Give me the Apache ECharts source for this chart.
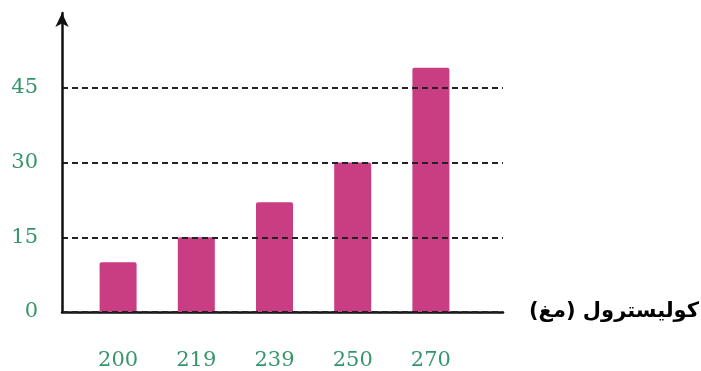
<!DOCTYPE html>
<html><head><meta charset="utf-8">
<script src="https://cdn.jsdelivr.net/npm/echarts@6/dist/echarts.min.js"></script>
<style>html,body{margin:0;padding:0;background:#fff}#c{width:701px;height:371px}</style>
</head><body><div id="c"></div>
<script>
const categories = ['200', '219', '239', '250', '270'];
const values = [10, 15, 22, 30, 49];
const yTickLabels = [0, 15, 30, 45];
const xAxisName = 'كوليسترول (مغ)';

const green = '#35966a';
const chart = echarts.init(document.getElementById('c'));
chart.setOption({
  animation: false,
  grid: [
    {left: 62, right: 198, top: 13, bottom: 59, containLabel: false, outerBoundsMode: 'none'},
    {left: 79, right: 231, top: 13, bottom: 59, containLabel: false, outerBoundsMode: 'none'}
  ],
  xAxis: [
    {gridIndex: 0, type: 'value', min: 0, max: 1,
     axisLine: {show: true, lineStyle: {color: '#111', width: 2.5}},
     axisTick: {show: false}, axisLabel: {show: false}, splitLine: {show: false},
     name: xAxisName, nameLocation: 'end', nameGap: 26,
     nameTextStyle: {fontFamily: 'DejaVu Sans', fontSize: 21, fontWeight: 'bold', color: '#000', verticalAlign: 'middle', padding: [0, 0, 18, 0]}},
    {gridIndex: 1, type: 'category', data: categories,
     axisLine: {show: false}, axisTick: {show: false},
     axisLabel: {color: green, fontFamily: 'DejaVu Serif', fontSize: 21, margin: 38}}
  ],
  yAxis: [
    {gridIndex: 0, type: 'value', min: 0, max: 60, interval: 15, z: 5,
     axisLine: {show: true, lineStyle: {color: '#111', width: 2.5}, symbol: ['none', 'arrow'], symbolSize: [10, 14]},
     axisTick: {show: false},
     axisLabel: {customValues: yTickLabels, color: green, fontFamily: 'DejaVu Serif', fontSize: 21, margin: 24},
     splitLine: {show: true, lineStyle: {type: [6, 4], width: 2.2, color: ['#222', '#222', '#222', '#222', 'rgba(0,0,0,0)']}}},
    {gridIndex: 1, type: 'value', min: 0, max: 60, show: false}
  ],
  series: [{
    type: 'bar', xAxisIndex: 1, yAxisIndex: 1, data: values,
    barWidth: 37, itemStyle: {color: '#c93d82', borderRadius: [2, 2, 0, 0]}
  }]
});
</script></body></html>
